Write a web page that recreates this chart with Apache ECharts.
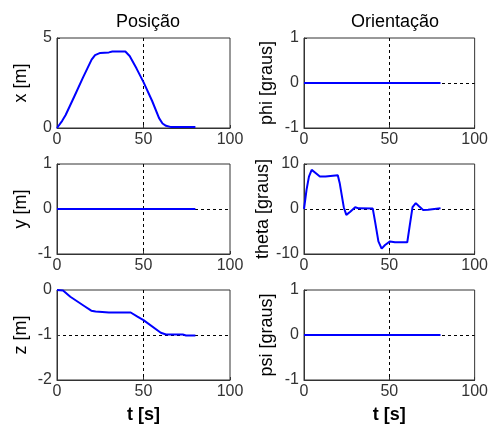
<!DOCTYPE html>
<html>
<head>
<meta charset="utf-8">
<style>
  html, body { margin: 0; padding: 0; background: #fff; }
  #chart { width: 491px; height: 425px; }
</style>
<script src="https://cdn.jsdelivr.net/npm/echarts@6/dist/echarts.min.js"></script>
</head>
<body>
<div id="chart"></div>
<script>
// posição x [m]
const xTime = [0, 1, 3, 5, 10, 15, 20, 22, 25, 30, 32, 36, 39.5, 42, 46, 50, 55, 59, 61, 63, 66, 72, 80]
const xPos = [0, 0.08, 0.4, 0.72, 1.75, 2.8, 3.8, 4.05, 4.17, 4.2, 4.25, 4.25, 4.25, 4.0, 3.3, 2.55, 1.5, 0.55, 0.25, 0.12, 0.05, 0.05, 0.05]

// posição z [m]
const zTime = [0, 3.5, 7.7, 15.5, 19.8, 22.3, 30, 42.6, 46.5, 50, 60, 63, 72.7, 74.6, 80]
const zPos = [0, -0.01, -0.15, -0.35, -0.46, -0.48, -0.5, -0.5, -0.59, -0.67, -0.95, -0.99, -0.99, -1.01, -1.01]

// theta [graus]
const thetaTime = [0, 1.5, 2.9, 4.5, 6.8, 9.3, 12.6, 13.6, 19.8, 20.9, 23.3, 24.8, 27.1, 30, 32, 40.3, 41.7, 43.6, 45.5, 47.5, 50.4, 53.3, 60.5, 62, 63.6, 65.5, 67.4, 69.8, 72.7, 73.6, 80]
const thetaVal = [0, 4.3, 7.2, 8.7, 8.0, 7.2, 7.2, 7.5, 7.5, 5.8, 0.4, -1.3, -0.6, 0.4, 0.15, 0.1, -2.9, -7.2, -8.8, -8.0, -7.2, -7.4, -7.4, -3.6, 0.4, 1.3, 0.6, -0.2, -0.15, 0.15, 0.15]

// y, phi, psi ficam em zero
const zeroTime = [0, 80]
const zeroVal = [0, 0]

const xTicks = [0, 50, 100]

// painéis: nome do eixo y, limites, intervalo, dados
const panels = [
  { name: 'x [m]', min: 0, max: 5, step: 5, t: xTime, v: xPos },
  { name: 'phi [graus]', min: -1, max: 1, step: 1, t: zeroTime, v: zeroVal },
  { name: 'y [m]', min: -1, max: 1, step: 1, t: zeroTime, v: zeroVal },
  { name: 'theta [graus]', min: -10, max: 10, step: 10, t: thetaTime, v: thetaVal },
  { name: 'z [m]', min: -2, max: 0, step: 1, t: zTime, v: zPos },
  { name: 'psi [graus]', min: -1, max: 1, step: 1, t: zeroTime, v: zeroVal }
]

const chart = echarts.init(document.getElementById('chart'))

const tops = [38, 164, 290]
const lefts = [57, 304]
const font = 'Liberation Sans, Arial, sans-serif'
const clear = 'rgba(0,0,0,0)'

// grade tracejada só nos ticks internos (as bordas ficam sólidas)
function gridColors(n) {
  const arr = []
  for (let k = 0; k < n; k++) arr.push(k === 0 || k === n - 1 ? clear : '#000')
  return arr
}

const grids = [], xAxes = [], yAxes = [], series = []
panels.forEach((p, i) => {
  const row = Math.floor(i / 2)
  const col = i % 2
  const nY = Math.round((p.max - p.min) / p.step) + 1
  grids.push({
    left: lefts[col], top: tops[row], width: 173, height: 90,
    show: true, borderColor: '#333', borderWidth: 1, backgroundColor: '#fff'
  })
  xAxes.push({
    gridIndex: i, type: 'value', min: xTicks[0], max: xTicks[xTicks.length - 1], interval: 50,
    name: row === 2 ? 't [s]' : '',
    nameLocation: 'middle', nameGap: 26,
    nameTextStyle: { fontFamily: font, fontSize: 18, fontWeight: 'bold', color: '#000' },
    axisLine: { show: true, onZero: false, lineStyle: { color: '#333' } },
    axisTick: { show: true, inside: true, length: 3, lineStyle: { color: '#333' } },
    axisLabel: { fontFamily: font, fontSize: 16, color: '#333', margin: 4 },
    splitLine: { show: true, lineStyle: { color: gridColors(xTicks.length), type: [3, 3], width: 1 } }
  })
  yAxes.push({
    gridIndex: i, type: 'value', min: p.min, max: p.max, interval: p.step,
    name: p.name, nameLocation: 'middle', nameGap: col === 0 ? 27 : 28,
    nameTextStyle: { fontFamily: font, fontSize: 18, color: '#000' },
    axisLine: { show: true, onZero: false, lineStyle: { color: '#333' } },
    axisTick: { show: true, inside: true, length: 3, lineStyle: { color: '#333' } },
    axisLabel: { fontFamily: font, fontSize: 16, color: '#333', margin: 5 },
    splitLine: { show: true, lineStyle: { color: gridColors(nY), type: [3, 3], width: 1 } }
  })
  series.push({
    type: 'line', xAxisIndex: i, yAxisIndex: i,
    data: p.t.map((t, k) => [t, p.v[k]]),
    showSymbol: false, symbol: 'none',
    lineStyle: { color: '#0000ff', width: 2 },
    z: 5
  })
})

chart.setOption({
  animation: false,
  backgroundColor: '#fff',
  title: [
    { text: 'Posição', left: 143, top: 8, textAlign: 'center',
      textStyle: { fontFamily: font, fontSize: 18, fontWeight: 'normal', color: '#000' } },
    { text: 'Orientação', left: 390, top: 8, textAlign: 'center',
      textStyle: { fontFamily: font, fontSize: 18, fontWeight: 'normal', color: '#000' } }
  ],
  grid: grids,
  xAxis: xAxes,
  yAxis: yAxes,
  series: series
})
</script>
</body>
</html>
